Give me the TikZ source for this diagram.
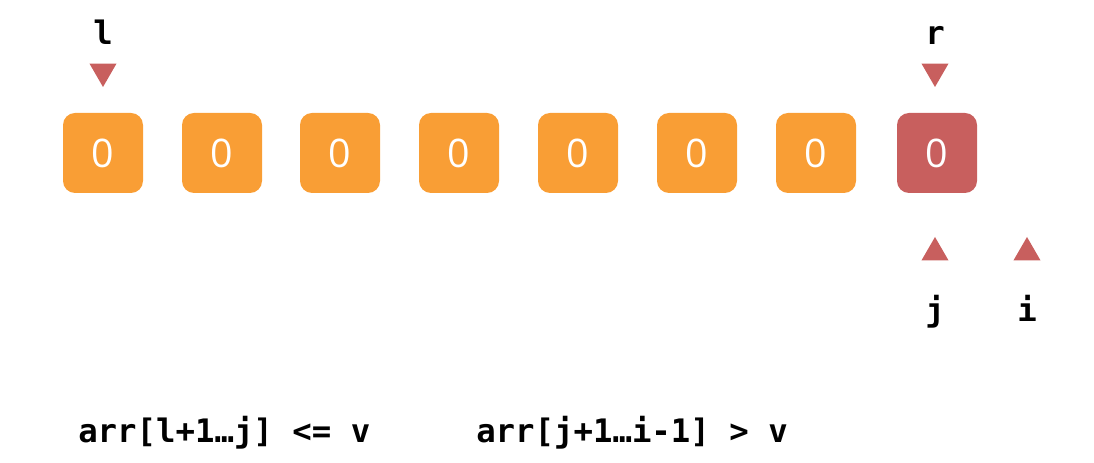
\documentclass[tikz,border=0pt]{standalone}
\usepackage{fontspec}
\setsansfont{Open Sans}
\setmonofont{DejaVu Sans Mono}
\usetikzlibrary{shapes.geometric,positioning}
\definecolor{cellorange}{HTML}{F99E35}
\definecolor{cellred}{HTML}{C85F5E}

\begin{document}
\begin{tikzpicture}[
    cell/.style={rectangle, fill=cellorange, rounded corners=0.3cm, minimum size=2cm, inner sep=0pt, text=white, font=\sffamily\fontsize{28}{30}\selectfont},
    hot/.style={cell, fill=cellred},
    ptrdown/.style={regular polygon, regular polygon sides=3, shape border rotate=180, fill=cellred, minimum size=0.78cm, inner sep=0pt},
    ptrup/.style={regular polygon, regular polygon sides=3, fill=cellred, minimum size=0.78cm, inner sep=0pt},
    lbl/.style={anchor=base, inner sep=0pt, font=\ttfamily\bfseries\fontsize{23}{27}\selectfont},
    inv/.style={anchor=base west, inner sep=0pt, font=\ttfamily\bfseries\fontsize{23}{27}\selectfont}
]
\useasboundingbox (0,0) rectangle (27.35,11.575);
% array cells
\node[cell] (b0) at (2.575,7.75) {0};
\node[cell] (b1) at (5.55,7.75) {0};
\node[cell] (b2) at (8.5,7.75) {0};
\node[cell] (b3) at (11.475,7.75) {0};
\node[cell] (b4) at (14.45,7.75) {0};
\node[cell] (b5) at (17.425,7.75) {0};
\node[cell] (b6) at (20.4,7.75) {0};
\node[hot] (b7) at (23.425,7.75) {0};
% pointers above
\node[ptrdown] (tl) at (2.575,9.79) {};
\node[ptrdown] (tr) at (23.375,9.79) {};
\node[lbl] (ll) at (2.575,10.45) {l};
\node[lbl] (lr) at (23.375,10.45) {r};
% pointers below
\node[ptrup] (tj) at (23.375,5.26) {};
\node[ptrup] (ti) at (25.675,5.26) {};
\node[lbl] (lj) at (23.375,3.525) {j};
\node[lbl] (li) at (25.675,3.525) {i};
% invariants
\node[inv] (inv1) at (1.95,0.5) {arr[l+1…j] <= v};
\node[inv] (inv2) at (11.9,0.5) {arr[j+1…i-1] > v};
\end{tikzpicture}
\end{document}
